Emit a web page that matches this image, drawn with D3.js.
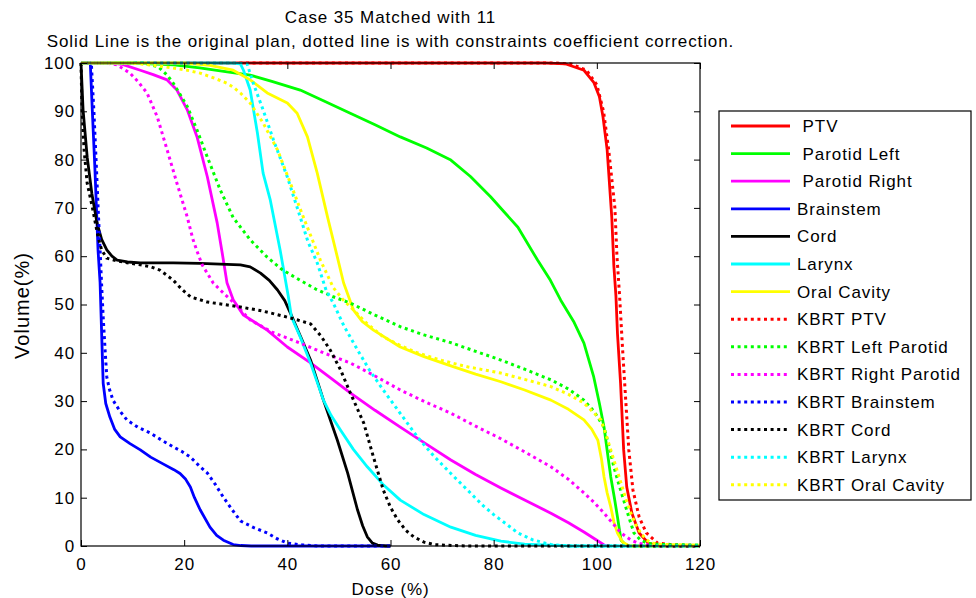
<!DOCTYPE html>
<html>
<head>
<meta charset="utf-8">
<script src="https://cdn.jsdelivr.net/npm/d3@7"></script>
<style>
  html, body { margin: 0; padding: 0; background: #fff; }
  svg { display: block; }
  text { font-family: "Liberation Sans", Arial, sans-serif; fill: #000; }
</style>
</head>
<body>
<svg id="chart" width="976" height="598"></svg>
<script>
// ---- Data (dose %, volume %) ----
const xTicks = [0, 20, 40, 60, 80, 100, 120];
const yTicks = [0, 10, 20, 30, 40, 50, 60, 70, 80, 90, 100];

const ptv = [[0,100],[90,100],[94,99.8],[97.5,98.5],[99.4,96],[100.5,93],[101.2,88.8],[102,82],[102.9,68],[103.3,58],[103.7,51.8],[104,44],[104.6,33.7],[105.2,19.9],[105.8,12.2],[106.8,6.8],[108.2,2.7],[110,0.6],[112,0],[120,0]];
const parotidLeft = [[0,100],[10,100],[18,99.6],[23,99],[28,98.2],[32.8,97.5],[37,96.2],[42.5,94.4],[47,92.2],[52.2,89.6],[57,87.2],[61.9,84.7],[67,82.4],[71.7,79.9],[75.5,76.5],[79.4,72.3],[82,69.2],[84.7,66],[88.5,59.2],[91,55],[93,50.9],[95.5,46.5],[97.5,42],[99.4,35],[100.5,29.5],[101.4,24.6],[102.1,19],[102.7,14.3],[103.4,10],[104,6],[104.7,1.2],[105.5,0.3],[106.5,0],[120,0]];
const parotidRight = [[0,100],[6,100],[8,99.7],[11.5,98.5],[14,97.6],[16.7,96.5],[18.6,94.4],[20.6,90.3],[22.5,84.7],[24.5,76.4],[26.4,66.9],[27.4,60.5],[28.3,54.5],[29.5,51],[31.5,47.8],[36.1,44.7],[40,41.2],[44.5,37.9],[48.5,34.7],[52.2,31.7],[57,28.1],[61.9,24.6],[66.8,21.2],[71.7,17.8],[76.5,14.8],[81.4,12],[86,9.5],[91.1,6.8],[94.5,4.8],[97.5,2.9],[100,1.2],[101.4,0.2],[102,0]];
const brainstem = [[0,100],[1.8,100],[2.2,90],[2.7,78],[3.1,67],[3.3,61.3],[3.7,54.5],[4.1,40.6],[4.3,33.7],[4.8,29.5],[5.6,26.7],[6.5,24.2],[7.6,22.6],[9.5,21.2],[11.5,19.9],[13.5,18.4],[15.9,17],[18,15.8],[19.2,15],[20.3,13.8],[21.2,12.2],[22,10],[23.1,7.5],[25,3.9],[26.3,2.2],[27.6,1.2],[29.5,0.3],[31,0.1],[33,0],[60,0]];
const cord = [[0,100],[0.4,90.3],[1.2,80.5],[2.1,73],[3.1,66.9],[4,63.5],[5,61.3],[6,60],[7,59.2],[9,58.8],[11.5,58.6],[17.9,58.6],[23.1,58.5],[30.9,58.2],[32.8,57.8],[34.8,56.5],[36.5,55],[38.1,53],[39.5,50.8],[40.6,48.2],[42.5,43.5],[44.5,38.5],[47,30.2],[49.7,21.9],[51.7,15.1],[53.6,7.5],[54.6,4.2],[55.5,1.9],[56.5,0.6],[57.5,0.2],[59,0],[60,0]];
const larynx = [[0,100],[29,100],[30.9,99.8],[31.5,98.5],[32.8,94.4],[34.2,85.5],[35.3,77.2],[36.7,71.6],[38.6,61.3],[40.2,51.6],[40.8,47.4],[42.5,43.3],[44.5,37.9],[47,30.2],[48.5,27],[50.3,24],[52.8,20],[55.5,16.4],[58.5,12.8],[61.9,9.5],[66.5,6.5],[71.7,3.9],[76.5,2.2],[81.4,1],[86,0.4],[91,0.2],[95,0],[120,0]];
const oralCavity = [[0,100],[20,100],[25,99.5],[29.5,98.5],[32.8,96.5],[36.1,93.8],[40,91.7],[41.9,89.6],[43.9,84.7],[45.8,77.2],[47.8,68.1],[49.7,59.8],[50.9,54.5],[52.8,48.9],[54.5,46.5],[56.7,44.7],[61.9,41.2],[66.5,39.2],[71.7,37.3],[76.5,35.6],[81.4,34],[86,32.3],[91.1,30.2],[94.5,28.3],[97.5,26.1],[99,24.2],[100.2,21.9],[100.9,18],[101.4,14.3],[102,11],[102.7,8.1],[103.3,5],[104,2.7],[105,0.8],[106,0.2],[107,0],[120,0]];

const kbrtPtv = [[0,100],[92,100],[95,99.8],[98,98.5],[100,95.5],[101.3,90],[102.3,82],[103.5,70],[103.9,60],[104.4,52],[105,40.6],[105.6,30.2],[106.2,19.9],[107,11.6],[108.2,6],[109.6,2.7],[111.8,0.6],[115,0.2],[120,0.1]];
const kbrtLeftParotid = [[0,100],[12,100],[15,99.2],[16.7,97.5],[17.9,95.8],[19.2,93.5],[20.6,91],[22.5,86.1],[24.5,80.5],[27,73.7],[29.5,68],[32.8,63.4],[36.1,59.8],[39,57.2],[42.5,55],[45.5,53.2],[48.9,51.6],[52.2,50.3],[57,47.8],[61.9,45.4],[66.5,43.7],[71.7,42.1],[76.5,40.3],[81.4,38.5],[86,36.6],[91.1,34.4],[94.5,32.5],[97.5,30.2],[99.5,27.8],[101.4,24.6],[102.5,20],[103.3,16.4],[104.2,13],[105.2,9.5],[106.2,6],[107.2,2.7],[108.5,1.2],[110,0.5],[113,0.3],[120,0.2]];
const kbrtRightParotid = [[0,100],[5,100],[7,99.6],[9.5,97.9],[11,96.2],[12.8,93.8],[14.8,88.8],[16.7,82],[18.6,75.1],[20.6,68.1],[21.7,63.5],[22.5,61],[23.5,58.2],[25.6,54.5],[27,53],[29.5,50.5],[32.8,46.8],[37,44.3],[42.5,42],[47,40],[52.2,37.9],[57,35.2],[61.9,32.3],[66.8,29.8],[71.7,27.5],[76.5,24.8],[81.4,22.2],[86,19.5],[91.1,16.4],[94.5,13.8],[97.5,11],[99.5,9],[101.4,6.8],[103,4.8],[104.7,2.7],[106.5,1.3],[108,0.6],[110,0.2],[112,0],[120,0]];
const kbrtBrainstem = [[0,100],[2,100],[2.5,90],[3,78],[3.4,68],[3.7,61.3],[4,54],[4.3,47.4],[4.7,40],[5,35],[5.5,32.5],[6.2,30.2],[7.5,28],[8.9,26.1],[11,24.6],[13.4,23.4],[15.5,22],[17.9,20.5],[19.5,19.6],[21.2,18.4],[23.1,16.4],[24.5,15.1],[26,12.8],[27.6,10.1],[29.3,7.5],[30.9,5.2],[33.5,3.8],[36.1,2.7],[38,1.5],[40,0.6],[43,0.2],[46,0],[60,0]];
const kbrtCord = [[0,100],[0.1,95],[0.2,90.3],[0.6,82],[1.2,75.1],[2.3,69.6],[3.3,64],[4,61.3],[5,59.6],[7,59],[11.5,58.2],[13.5,57.8],[15.3,57.1],[16.7,56],[17.9,55],[19.5,53.2],[21.2,51.6],[24.5,50.5],[30.3,49.6],[35,48.7],[39.2,47.6],[42,46.8],[44.5,46],[46.5,43.5],[48.3,40.6],[50.3,36.5],[52.2,31.7],[54.8,25.5],[56.7,18.4],[58.6,11.6],[60,8],[61.4,5.4],[63,3.2],[64.5,1.9],[66.5,0.8],[68.4,0.3],[72,0.1],[75,0],[120,0]];
const kbrtLarynx = [[0,100],[30,100],[32.2,99.8],[33.4,95.8],[35.3,90.3],[37.3,84.1],[40,76.4],[42.5,68.1],[44,63],[45.8,58.6],[47.5,53],[48.9,50.3],[51,45.5],[53.6,40.6],[56,36.3],[58.6,32.3],[62,27.3],[65.2,22.6],[68.5,18.5],[71.7,15],[75,11.5],[78,8.3],[80,6.5],[82.5,4.5],[84.7,2.7],[87.5,1.3],[91.1,0.3],[95,0],[120,0]];
const kbrtOralCavity = [[0,100],[10,100],[15,99.4],[20.6,98.5],[23.1,97.9],[26,96.8],[28.3,95.8],[29.5,95],[30.9,93.8],[32.8,91.7],[35.3,87.6],[38.1,82],[40.6,75.1],[43.1,68.1],[45,63],[46.4,59.2],[48.9,53.5],[50.8,51],[52.8,48.9],[55.5,46],[58.6,43.3],[61.9,41.5],[65.2,40],[70,38.4],[74.9,37.1],[81.4,35.8],[86,34.5],[91.1,33],[94.5,31.4],[97.5,29.6],[100.8,26.1],[101.8,23],[102.7,19.9],[103.7,16.4],[104.7,13],[105.6,9.8],[106.6,6.8],[107.5,4.5],[108.5,2.7],[109.5,1.4],[110.5,0.6],[113,0.3],[120,0.2]];

const seriesNames = ["PTV", " Parotid Left", " Parotid Right", "Brainstem", "Cord", "Larynx", "Oral Cavity",
  "KBRT PTV", "KBRT Left Parotid", "KBRT Right Parotid", "KBRT Brainstem", "KBRT Cord", "KBRT Larynx", "KBRT Oral Cavity"];
const seriesLegendNames = [" PTV", " Parotid Left", " Parotid Right", "Brainstem", "Cord", "Larynx", "Oral Cavity",
  "KBRT PTV", "KBRT Left Parotid", "KBRT Right Parotid", "KBRT Brainstem", "KBRT Cord", "KBRT Larynx", "KBRT Oral Cavity"];
const seriesData = [ptv, parotidLeft, parotidRight, brainstem, cord, larynx, oralCavity,
  kbrtPtv, kbrtLeftParotid, kbrtRightParotid, kbrtBrainstem, kbrtCord, kbrtLarynx, kbrtOralCavity];
const seriesColors = ["#ff0000", "#00ff00", "#ff00ff", "#0000ff", "#000000", "#00ffff", "#ffff00",
  "#ff0000", "#00ff00", "#ff00ff", "#0000ff", "#000000", "#00ffff", "#ffff00"];
const seriesDotted = [false, false, false, false, false, false, false, true, true, true, true, true, true, true];

// ---- Layout ----
const svg = d3.select("#chart");
const L = 81, R = 700, T = 63, B = 546;
const x = d3.scaleLinear().domain([0, 120]).range([L, R]);
const y = d3.scaleLinear().domain([0, 100]).range([B, T]);

const fontSize = 17, ls = 0.9;

// Titles
svg.append("text").attr("x", (L + R) / 2).attr("y", 23).attr("text-anchor", "middle")
  .style("font-size", fontSize + "px").style("letter-spacing", ls + "px").text("Case 35 Matched with 11");
svg.append("text").attr("x", (L + R) / 2).attr("y", 47).attr("text-anchor", "middle")
  .style("font-size", fontSize + "px").style("letter-spacing", ls + "px")
  .text("Solid Line is the original plan, dotted line is with constraints coefficient correction.");

// Curves
const line = d3.line().x(d => x(d[0])).y(d => y(d[1]));
const curves = svg.append("g");
seriesData.forEach((data, i) => {
  curves.append("path").datum(data)
    .attr("d", line)
    .attr("fill", "none")
    .attr("stroke", seriesColors[i])
    .attr("stroke-width", seriesDotted[i] ? 3 : 2.8)
    .attr("stroke-dasharray", seriesDotted[i] ? "3,3.6" : null)
    .attr("stroke-linejoin", "round");
});

// Axes (ticks pointing inward, MATLAB style box)
function styleAxis(g) {
  g.select(".domain").remove();
  g.selectAll(".tick line").attr("stroke", "#000").attr("stroke-width", 1);
  g.selectAll(".tick text").style("font-size", fontSize + "px").style("letter-spacing", ls + "px")
    .attr("fill", "#000").style("font-family", '"Liberation Sans", Arial, sans-serif');
}
svg.append("g").attr("transform", `translate(0,${B})`)
  .call(d3.axisBottom(x).tickValues(xTicks).tickSize(-6).tickPadding(12).tickFormat(d3.format("d")))
  .call(styleAxis);
svg.append("g").attr("transform", `translate(0,${T})`)
  .call(d3.axisTop(x).tickValues(xTicks).tickSize(-6).tickFormat(""))
  .call(styleAxis);
svg.append("g").attr("transform", `translate(${L},0)`)
  .call(d3.axisLeft(y).tickValues(yTicks).tickSize(-6).tickPadding(6).tickFormat(d3.format("d")))
  .call(styleAxis);
svg.append("g").attr("transform", `translate(${R},0)`)
  .call(d3.axisRight(y).tickValues(yTicks).tickSize(-6).tickFormat(""))
  .call(styleAxis);
svg.append("rect").attr("x", L).attr("y", T).attr("width", R - L).attr("height", B - T)
  .attr("fill", "none").attr("stroke", "#000").attr("stroke-width", 1.2);

// Axis labels
svg.append("text").attr("x", (L + R) / 2).attr("y", 595).attr("text-anchor", "middle")
  .style("font-size", fontSize + "px").style("letter-spacing", ls + "px").text("Dose (%)");
svg.append("text").attr("transform", `translate(29,${(T + B) / 2 + 1}) rotate(-90)`).attr("text-anchor", "middle")
  .style("font-size", "20px").style("letter-spacing", "1px").text("Volume(%)");

// Legend
const lg = svg.append("g");
lg.append("rect").attr("x", 719).attr("y", 111).attr("width", 252).attr("height", 389)
  .attr("fill", "#fff").attr("stroke", "#000").attr("stroke-width", 1.2);
seriesLegendNames.forEach((name, i) => {
  const cy = 126 + i * 27.6;
  lg.append("line").attr("x1", 731).attr("x2", 790).attr("y1", cy).attr("y2", cy)
    .attr("stroke", seriesColors[i]).attr("stroke-width", seriesDotted[i] ? 3 : 2.8)
    .attr("stroke-dasharray", seriesDotted[i] ? "3,3.6" : null);
  lg.append("text").attr("x", 797).attr("y", cy + 6).attr("xml:space", "preserve")
    .style("white-space", "pre")
    .style("font-size", fontSize + "px").style("letter-spacing", ls + "px").text(name);
});
</script>
</body>
</html>
